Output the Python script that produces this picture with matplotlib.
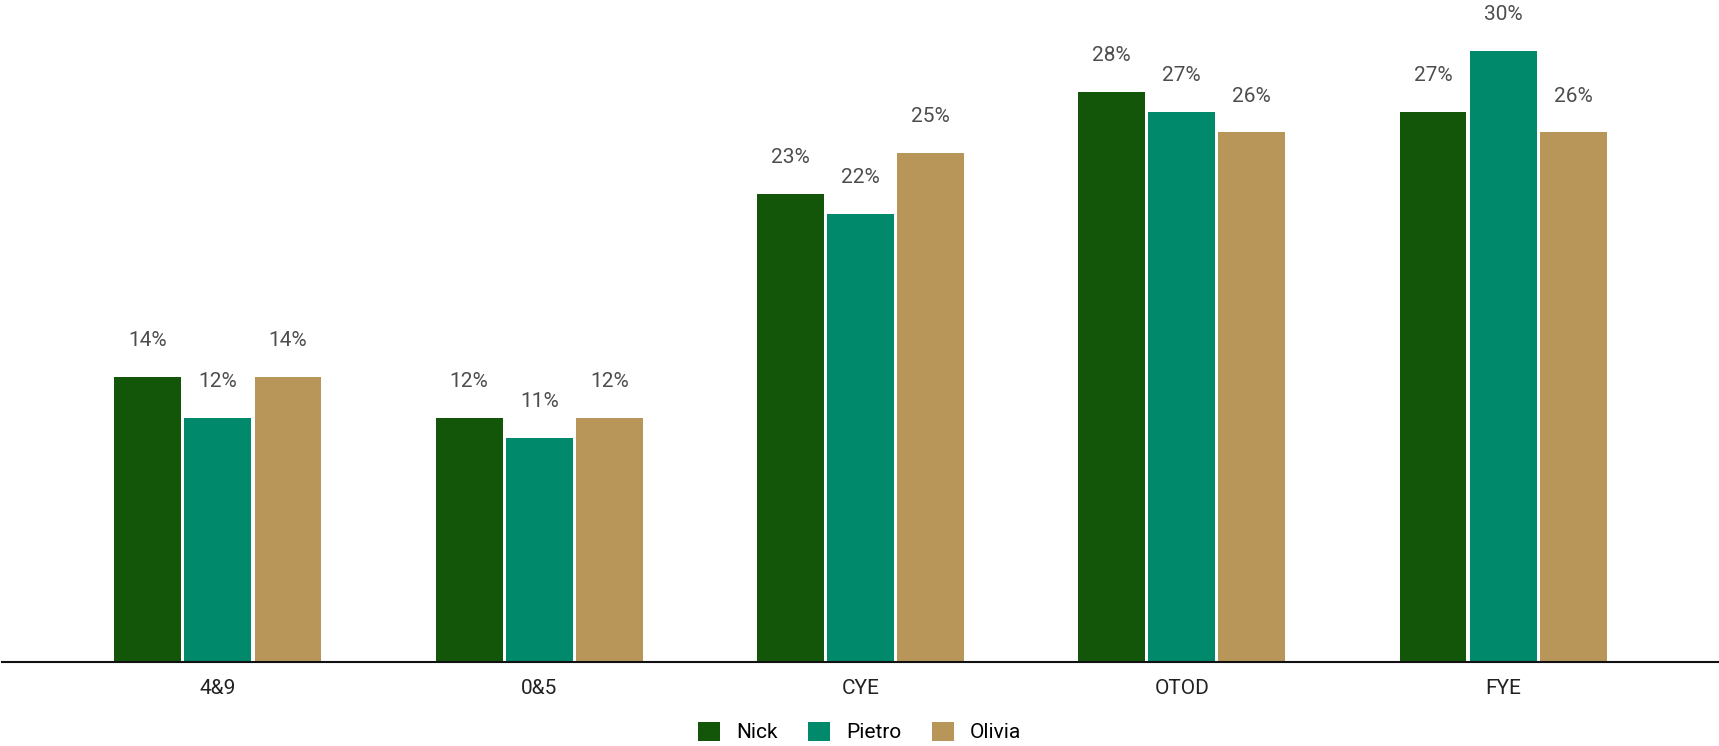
import numpy as np
import matplotlib.pyplot as plt
from matplotlib.patches import Patch

plt.rcParams['font.family'] = ['Roboto', 'DejaVu Sans']

# Data
categories = ['4&9', '0&5', 'CYE', 'OTOD', 'FYE']
series_names = ['Nick', 'Pietro', 'Olivia']
nick = [14, 12, 23, 28, 27]
pietro = [12, 11, 22, 27, 30]
olivia = [14, 12, 25, 26, 26]
colors = ['#13560A', '#00896A', '#B89659']

fig = plt.figure(figsize=(17.19, 7.46), dpi=100)
ax = fig.add_axes([2 / 1719, 84 / 746, 1717 / 1719, 662 / 746])

x = np.arange(len(categories))
width = 0.208
step = 0.218
for i, (vals, c) in enumerate(zip([nick, pietro, olivia], colors)):
    pos = x + (i - 1) * step
    bars = ax.bar(pos, vals, width, color=c, zorder=2)
    for b, v in zip(bars, vals):
        ax.annotate(f'{v}%', (b.get_x() + b.get_width() / 2, v),
                    xytext=(0, 26), textcoords='offset points',
                    ha='center', va='center', fontsize=15, color='#4d4d4d')

ax.set_xlim(-0.672, 4.672)
ax.set_ylim(0, 32.5)
ax.set_xticks(x)
ax.set_xticklabels(categories, fontsize=15, color='#222222')
ax.tick_params(axis='x', length=0, pad=12)
ax.set_yticks([])
for s in ['top', 'right', 'left']:
    ax.spines[s].set_visible(False)
ax.spines['bottom'].set_linewidth(1.5)
ax.spines['bottom'].set_color('#111111')
ax.spines['bottom'].set_zorder(3)

handles = [Patch(facecolor=c, label=n) for n, c in zip(series_names, colors)]
fig.legend(handles=handles, loc='center', bbox_to_anchor=(0.5, 1 - 732 / 746),
           ncol=3, frameon=False, fontsize=15, handlelength=1.05, handleheight=1.05,
           handletextpad=0.76, columnspacing=1.48, borderpad=0)

fig.savefig('out.png', dpi=100)
